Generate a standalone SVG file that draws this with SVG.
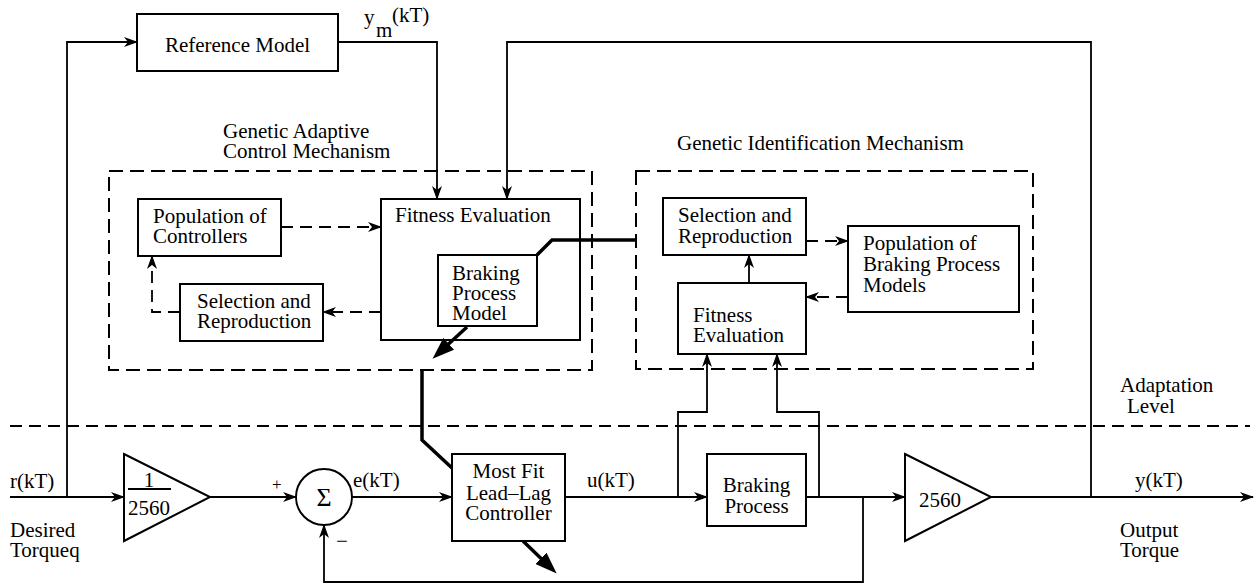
<svg xmlns="http://www.w3.org/2000/svg" width="1257" height="586" viewBox="0 0 1257 586">
<style>
text{font-family:"Liberation Serif","Times New Roman",serif;font-size:21px;fill:#000}
.box{fill:#fff;stroke:#000;stroke-width:2}
.grp{fill:none;stroke:#000;stroke-width:2;stroke-dasharray:14 7}
.ln{fill:none;stroke:#000;stroke-width:1.8}
.dl{fill:none;stroke:#000;stroke-width:1.8;stroke-dasharray:12 7}
.th{fill:none;stroke:#000;stroke-width:3.5}
</style>
<defs>
<marker id="arr" markerUnits="userSpaceOnUse" viewBox="0 0 14 10" markerWidth="14" markerHeight="10" refX="13" refY="5" orient="auto"><path d="M0,0 L14,5 L0,10 L4,5 z" fill="#000"/></marker>
<marker id="big" markerUnits="userSpaceOnUse" viewBox="0 0 22 16" markerWidth="22" markerHeight="16" refX="1" refY="8" orient="auto"><path d="M0,0 L22,8 L0,16 z" fill="#000"/></marker>
</defs>
<rect width="1257" height="586" fill="#fff"/>

<g id="group-gacm">
<rect class="grp" x="109" y="171" width="483" height="199"/>
<text x="223" y="138">Genetic Adaptive</text>
<text x="223" y="158">Control Mechanism</text>
</g>
<g id="group-gim">
<rect class="grp" x="636" y="171" width="397" height="198"/>
<text x="677" y="150">Genetic Identification Mechanism</text>
</g>
<g id="divider">
<path class="dl" d="M10,426 L1250,426"/>
<text x="1120" y="392">Adaptation</text>
<text x="1127" y="413">Level</text>
</g>

<g id="reference-model">
<rect class="box" x="137" y="14" width="201" height="57"/>
<text x="237.5" y="52" text-anchor="middle">Reference Model</text>
</g>
<g id="population-controllers">
<rect class="box" x="138" y="199" width="143" height="57"/>
<text x="153" y="223">Population of</text>
<text x="153" y="243">Controllers</text>
</g>
<g id="selection-left">
<rect class="box" x="180" y="284" width="143" height="57"/>
<text x="197" y="308">Selection and</text>
<text x="197" y="328">Reproduction</text>
</g>
<g id="fitness-left">
<rect class="box" x="381" y="199" width="199" height="141"/>
<text x="395" y="222">Fitness Evaluation</text>
</g>
<g id="braking-model">
<rect class="box" x="438" y="255" width="99" height="71"/>
<text x="452" y="280">Braking</text>
<text x="452" y="300">Process</text>
<text x="452" y="320">Model</text>
</g>
<g id="selection-right">
<rect class="box" x="663" y="198" width="143" height="57"/>
<text x="678" y="222">Selection and</text>
<text x="678" y="243">Reproduction</text>
</g>
<g id="population-models">
<rect class="box" x="848" y="226" width="171" height="86"/>
<text x="863" y="250">Population of</text>
<text x="863" y="271">Braking Process</text>
<text x="863" y="292">Models</text>
</g>
<g id="fitness-right">
<rect class="box" x="678" y="283" width="128" height="71"/>
<text x="693" y="322">Fitness</text>
<text x="693" y="342">Evaluation</text>
</g>

<g id="gain-in">
<path class="box" d="M124,454 L210,497 L124,541 z"/>
<text x="149" y="487" text-anchor="middle">1</text>
<path class="ln" d="M128,489 L171,489"/>
<text x="128" y="515">2560</text>
</g>
<g id="sum">
<circle class="box" cx="324" cy="497" r="28"/>
<text x="324" y="506" text-anchor="middle" style="font-size:26px">Σ</text>
</g>
<g id="controller">
<rect class="box" x="452" y="454" width="113" height="87"/>
<text x="508.5" y="478" text-anchor="middle">Most Fit</text>
<text x="508.5" y="500" text-anchor="middle">Lead–Lag</text>
<text x="508.5" y="520" text-anchor="middle">Controller</text>
</g>
<g id="braking-process">
<rect class="box" x="707" y="454" width="99" height="72"/>
<text x="756.5" y="492" text-anchor="middle">Braking</text>
<text x="756.5" y="513" text-anchor="middle">Process</text>
</g>
<g id="gain-out">
<path class="box" d="M905,454 L991,497 L905,541 z"/>
<text x="919" y="507">2560</text>
</g>

<g id="connectors">
<path class="ln" d="M10,497 L124,497" marker-end="url(#arr)"/>
<path class="ln" d="M67,497 L67,42 L137,42" marker-end="url(#arr)"/>
<path class="ln" d="M338,42 L437,42 L437,199" marker-end="url(#arr)"/>
<path class="ln" d="M1091,497 L1091,42 L507,42 L507,199" marker-end="url(#arr)"/>
<path class="ln" d="M210,497 L296,497" marker-end="url(#arr)"/>
<path class="ln" d="M352,497 L452,497" marker-end="url(#arr)"/>
<path class="ln" d="M565,497 L707,497" marker-end="url(#arr)"/>
<path class="ln" d="M806,497 L905,497" marker-end="url(#arr)"/>
<path class="ln" d="M991,497 L1253,497" marker-end="url(#arr)"/>
<path class="ln" d="M863,497 L863,582 L324,582 L324,525" marker-end="url(#arr)"/>
<path class="ln" d="M678,497 L678,412 L707,412 L707,354" marker-end="url(#arr)"/>
<path class="ln" d="M819,497 L819,412 L777,412 L777,354" marker-end="url(#arr)"/>
<path class="dl" d="M281,227 L381,227" marker-end="url(#arr)"/>
<path class="dl" d="M381,312 L323,312" marker-end="url(#arr)"/>
<path class="dl" d="M180,312 L152,312 L152,256" marker-end="url(#arr)"/>
<path class="dl" d="M806,241 L848,241" marker-end="url(#arr)"/>
<path class="dl" d="M848,297 L806,297" marker-end="url(#arr)"/>
<path class="ln" d="M749,283 L749,255" marker-end="url(#arr)"/>
<path class="th" d="M537,255 L552,240 L636,240"/>
<path class="th" d="M422,370 L422,440 L452,468"/>
<path class="th" d="M467,327 L448,344.5" marker-end="url(#big)"/>
<path class="th" d="M523,541 L541.6,559" marker-end="url(#big)"/>
</g>

<g id="labels">
<text x="364" y="24">y</text>
<text x="376" y="37">m</text>
<text x="392" y="22">(kT)</text>
<text x="10" y="488">r(kT)</text>
<text x="10" y="537">Desired</text>
<text x="10" y="557">Torqueq</text>
<text x="272" y="490" style="font-size:17px">+</text>
<text x="336" y="548">−</text>
<text x="353" y="487">e(kT)</text>
<text x="587" y="487">u(kT)</text>
<text x="1135" y="487">y(kT)</text>
<text x="1120" y="537">Output</text>
<text x="1120" y="557">Torque</text>
</g>
</svg>
